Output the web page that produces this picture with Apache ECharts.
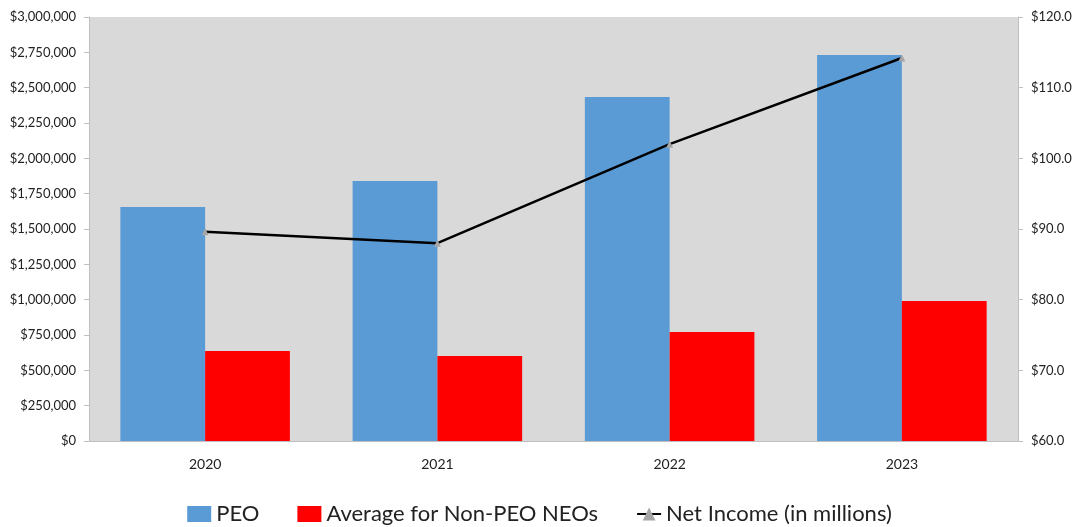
<!DOCTYPE html>
<html><head><meta charset="utf-8">
<script src="https://cdn.jsdelivr.net/npm/echarts@6/dist/echarts.min.js"></script>
<style>html,body{margin:0;padding:0;background:#fff}#c{width:1079px;height:527px}</style>
</head><body><div id="c"></div>
<script>
const years = ['2020','2021','2022','2023'];
const peo = [1655000, 1840000, 2434000, 2731000];
const nonPeo = [637000, 601000, 771000, 991000];
const netIncome = [89.6, 88.0, 102.0, 114.2];

const font = 'Lato, "Open Sans", sans-serif';
const chart = echarts.init(document.getElementById('c'));
chart.setOption({
  animation: false,
  textStyle: {fontFamily: font},
  grid: {left: 89, right: 61, top: 17, bottom: 86, show: true, backgroundColor: '#D9D9D9', borderWidth: 0},
  legend: {
    top: 498, left: 'center', itemWidth: 24, itemHeight: 16, itemGap: 38,
    textStyle: {fontSize: 22, color: '#222', fontFamily: font},
    data: [
      {name: 'PEO', icon: 'rect'},
      {name: 'Average for Non-PEO NEOs', icon: 'rect'},
      {name: 'Net Income (in millions)'}
    ]
  },
  xAxis: {
    type: 'category', data: years,
    axisLine: {lineStyle: {color: '#BFBFBF'}},
    axisTick: {show: false},
    axisLabel: {color: '#222', fontSize: 14, margin: 16}
  },
  yAxis: [
    {type: 'value', min: 0, max: 3000000, interval: 250000,
     axisLine: {show: true, lineStyle: {color: '#BFBFBF'}},
     axisTick: {show: true, length: 5, lineStyle: {color: '#BFBFBF'}},
     splitLine: {show: false},
     axisLabel: {color: '#222', fontSize: 13, margin: 13,
       formatter: v => '$' + v.toLocaleString('en-US')}},
    {type: 'value', min: 60, max: 120, interval: 10, position: 'right',
     axisLine: {show: true, lineStyle: {color: '#BFBFBF'}},
     axisTick: {show: true, length: 5, lineStyle: {color: '#BFBFBF'}},
     splitLine: {show: false},
     axisLabel: {color: '#222', fontSize: 13, margin: 13,
       formatter: v => '$' + v.toFixed(1)}}
  ],
  series: [
    {name: 'PEO', type: 'bar', data: peo, itemStyle: {color: '#5B9BD5'},
     barGap: '0%', barCategoryGap: '27%'},
    {name: 'Average for Non-PEO NEOs', type: 'bar', data: nonPeo, itemStyle: {color: '#FF0000'}},
    {name: 'Net Income (in millions)', type: 'line', yAxisIndex: 1, data: netIncome,
     symbol: 'triangle', symbolSize: 7, itemStyle: {color: '#A6A6A6'},
     lineStyle: {color: '#000', width: 2.5}}
  ]
});
</script></body></html>
